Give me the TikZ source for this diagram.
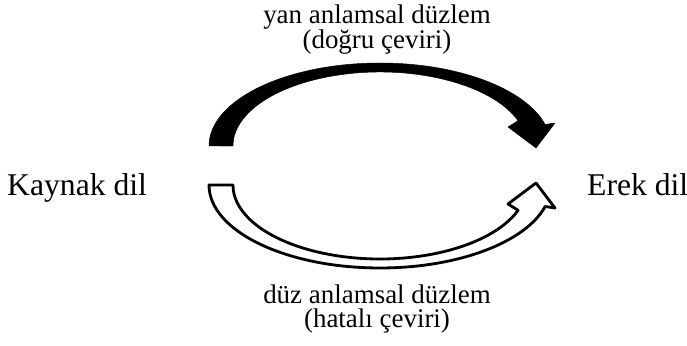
\documentclass[tikz,border=0pt]{standalone}
\usepackage{fontspec}
\setmainfont{Liberation Serif}
\usepackage{tikz}
\def\bentarrow[#1]{\draw[#1] (209, 146) arc (180:345:171 and 83) -- (555, 123) -- (536, 148) -- (508, 127) -- (518.1, 120.7) arc (340:180:147 and 74) -- cycle;}
\tikzset{
	lang/.style={inner sep=0pt, font=\fontsize{27}{30}\selectfont},
	plane/.style={inner sep=0pt, align=center, font=\fontsize{23}{20.5}\selectfont}
}

\begin{document}
\begin{tikzpicture}[x=0.03cm, y=-0.03cm]
		%%%%% START %%%%%
		\useasboundingbox (0, 0) rectangle (687, 346);
		
		\node[lang, anchor=base west] (kaynak) at (7, 196) {Kaynak dil};
		\node[lang, anchor=base west] (erek) at (587, 196) {Erek dil};
		
		\node[plane, anchor=base] (yan) at (377, 49) {yan anlamsal düzlem\\(doğru çeviri)};
		\node[plane, anchor=base] (duz) at (377, 328) {düz anlamsal düzlem\\(hatalı çeviri)};
		
		\bentarrow[fill=black, line join=round];
		
		\begin{scope}[shift={(0, 331)}, yscale=-1]
			\bentarrow[fill=white, draw=black, line width=2.4pt, line join=round];
		\end{scope}
		%%%%% END %%%%%
	\end{tikzpicture}
\end{document}
